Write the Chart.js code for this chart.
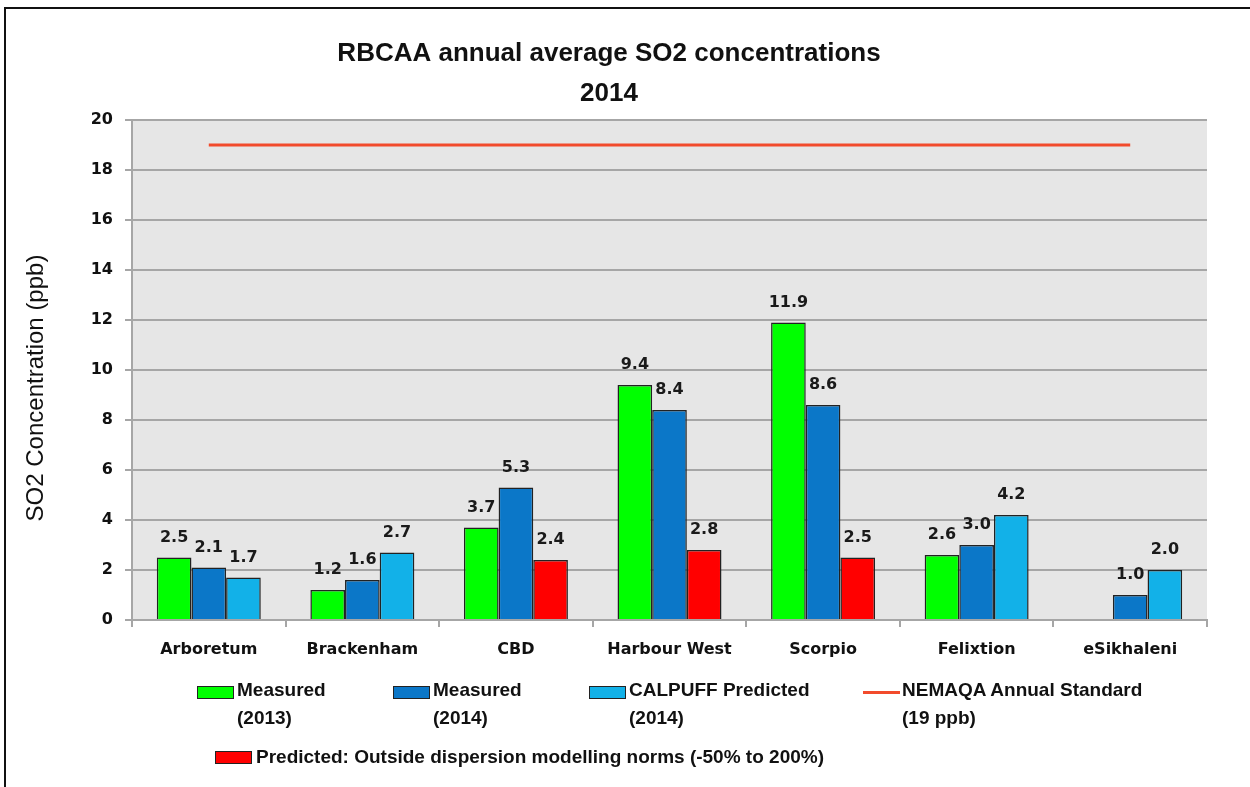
<!DOCTYPE html>
<html>
<head>
<meta charset="utf-8">
<script src="https://cdn.jsdelivr.net/npm/chart.js@4.4.1/dist/chart.umd.min.js"></script>
<style>
  html, body { margin: 0; padding: 0; background: #fff; overflow: hidden; }
  #wrap { position: relative; width: 1250px; height: 787px; }
  #frame { position: absolute; left: 4px; top: 7px; width: 1300px; height: 900px; border: 2px solid #111; box-sizing: border-box; pointer-events: none; }
  #grafico { position: absolute; left: 0; top: 0; }
  .leg { position: absolute; font-family: "Liberation Sans", Arial, sans-serif; font-weight: bold; font-size: 19px; color: #111; line-height: 28px; white-space: nowrap; }
  .sw { position: absolute; width: 37px; height: 13px; border: 1.5px solid #222; box-sizing: border-box; }
  .ln { position: absolute; width: 37px; height: 3px; background: #f24b2c; }
</style>
</head>
<body>
<div id="wrap">
  <canvas id="grafico" width="1250" height="787"></canvas>
  <div id="frame"></div>

  <!-- legenda -->
  <div class="sw" style="left:197px; top:686px; background:#00ff00"></div>
  <div class="leg" style="left:237px; top:676px">Measured<br>(2013)</div>

  <div class="sw" style="left:393px; top:686px; background:#0b77c8"></div>
  <div class="leg" style="left:433px; top:676px">Measured<br>(2014)</div>

  <div class="sw" style="left:589px; top:686px; background:#12b1e8"></div>
  <div class="leg" style="left:629px; top:676px">CALPUFF Predicted<br>(2014)</div>

  <div class="ln" style="left:863px; top:691px"></div>
  <div class="leg" style="left:902px; top:676px">NEMAQA Annual Standard<br>(19 ppb)</div>

  <div class="sw" style="left:215px; top:751px; background:#ff0000"></div>
  <div class="leg" style="left:256px; top:743px">Predicted: Outside dispersion modelling norms (-50% to 200%)</div>
</div>

<script>
// dados do grafico
const estacoes = ["Arboretum", "Brackenham", "CBD", "Harbour West", "Scorpio", "Felixtion", "eSikhaleni"];
const medido2013 = [2.5, 1.2, 3.7, 9.4, 11.9, 2.6, null];
const medido2014 = [2.1, 1.6, 5.3, 8.4, 8.6, 3.0, 1.0];
const previsto2014 = [1.7, 2.7, 2.4, 2.8, 2.5, 4.2, 2.0];
const foraDaNorma = [false, false, true, true, true, false, false];
const padraoNemaqa = [19, 19, 19, 19, 19, 19, 19];
const ticksY = [0, 2, 4, 6, 8, 10, 12, 14, 16, 18, 20];

const corVerde = "#00ff00";
const corAzul = "#0b77c8";
const corAzulClaro = "#12b1e8";
const corVermelho = "#ff0000";

const coresPrevisto = previsto2014.map((v, i) => (foraDaNorma[i] ? corVermelho : corAzulClaro));

// fundo cinza da area do grafico
const fundoPlot = {
  id: "fundoPlot",
  beforeDraw(chart) {
    const { ctx, chartArea } = chart;
    ctx.save();
    ctx.fillStyle = "#e6e6e6";
    ctx.fillRect(chartArea.left, chartArea.top, chartArea.right - chartArea.left, chartArea.bottom - chartArea.top);
    ctx.restore();
  },
};

// titulo do eixo y (um pouco abaixo do centro, como no original)
const tituloEixoY = {
  id: "tituloEixoY",
  afterDraw(chart) {
    const ctx = chart.ctx;
    ctx.save();
    ctx.translate(36, 388);
    ctx.rotate(-Math.PI / 2);
    ctx.font = "24px 'Liberation Sans'";
    ctx.fillStyle = "#111";
    ctx.textAlign = "center";
    ctx.textBaseline = "middle";
    ctx.fillText("SO2 Concentration (ppb)", 0, 0);
    ctx.restore();
  },
};

// rotulos de valor em cima das barras
const rotulosBarras = {
  id: "rotulosBarras",
  afterDatasetsDraw(chart) {
    const ctx = chart.ctx;
    ctx.save();
    ctx.font = "bold 16px 'DejaVu Sans'";
    ctx.fillStyle = "#1a1a1a";
    ctx.textAlign = "center";
    ctx.textBaseline = "middle";
    chart.data.datasets.forEach((ds, i) => {
      if (ds.type == "line") return;
      const meta = chart.getDatasetMeta(i);
      meta.data.forEach((bar, j) => {
        const v = ds.data[j];
        if (v == null) return;
        ctx.fillText(v.toFixed(1), bar.x, bar.y - 20);
      });
    });
    ctx.restore();
  },
};

const grafico = new Chart(document.getElementById("grafico"), {
  type: "bar",
  data: {
    labels: estacoes,
    datasets: [
      {
        type: "line",
        label: "NEMAQA Annual Standard (19 ppb)",
        data: padraoNemaqa,
        borderColor: "#f24b2c",
        borderWidth: 3,
        pointRadius: 0,
        fill: false,
      },
      {
        label: "Measured (2013)",
        data: medido2013,
        backgroundColor: corVerde,
        borderColor: "#222",
        borderWidth: 1.5,
      },
      {
        label: "Measured (2014)",
        data: medido2014,
        backgroundColor: corAzul,
        borderColor: "#222",
        borderWidth: 1.5,
      },
      {
        label: "CALPUFF Predicted (2014)",
        data: previsto2014,
        backgroundColor: coresPrevisto,
        borderColor: "#222",
        borderWidth: 1.5,
      },
    ],
  },
  options: {
    responsive: false,
    animation: false,
    categoryPercentage: 0.677,
    barPercentage: 1,
    layout: { padding: { left: 11, right: 43, top: 34, bottom: 0 } },
    plugins: {
      legend: { display: false },
      tooltip: { enabled: false },
      title: {
        display: true,
        text: ["RBCAA annual average SO2 concentrations", "2014"],
        color: "#111",
        font: { family: "'Liberation Sans'", size: 26, weight: "bold", lineHeight: 1.54 },
        padding: { top: 0, bottom: 6 },
      },
    },
    scales: {
      x: {
        offset: true,
        grid: { offset: true, drawOnChartArea: false, color: "#a6a6a6", lineWidth: 2, tickLength: 7 },
        border: { color: "#a6a6a6", width: 2 },
        ticks: { color: "#111", padding: 13, font: { family: "'DejaVu Sans'", size: 16, weight: "bold" } },
        afterFit(scale) {
          scale.height = 167;
        },
      },
      y: {
        min: 0,
        max: 20,
        afterBuildTicks(scale) {
          scale.ticks = ticksY.map((v) => ({ value: v }));
        },
        grid: { color: "#a6a6a6", lineWidth: 2, tickLength: 7 },
        border: { color: "#a6a6a6", width: 2 },
        ticks: { color: "#111", padding: 12, font: { family: "'DejaVu Sans'", size: 16, weight: "bold" } },
        afterFit(scale) {
          scale.width = 121;
        },
      },
    },
  },
  plugins: [fundoPlot, rotulosBarras, tituloEixoY],
});
</script>
</body>
</html>
